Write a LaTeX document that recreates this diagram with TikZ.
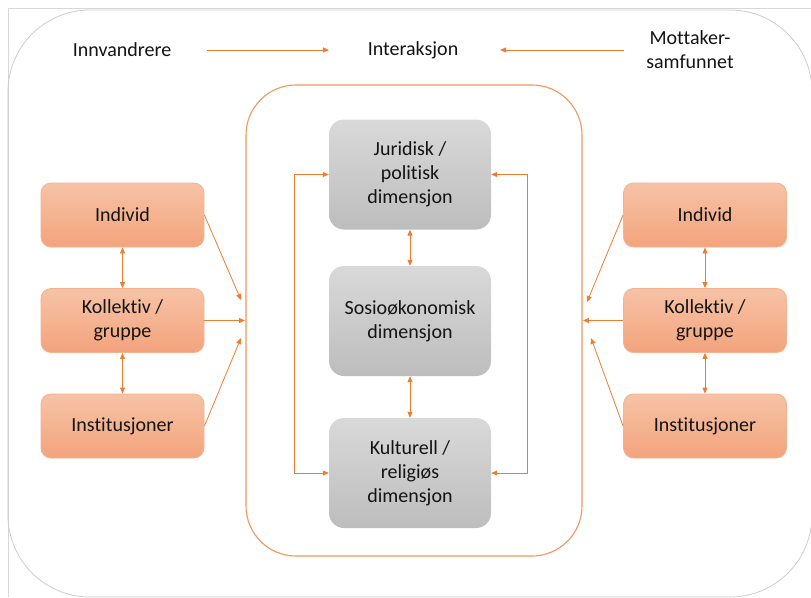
\documentclass[tikz,border=0pt]{standalone}
\usepackage{fontspec}
\setmainfont{Carlito}[Ligatures={NoCommon}]
\usetikzlibrary{arrows.meta}
\definecolor{arr}{HTML}{ED7D31}
\definecolor{otop}{HTML}{F6C3A6}
\definecolor{obot}{HTML}{F3A37C}
\definecolor{oline}{HTML}{F5B48F}
\definecolor{gtop}{HTML}{D9D9D9}
\definecolor{gbot}{HTML}{BDBDBD}
\definecolor{txt}{HTML}{141414}
\tikzset{
  obox/.style={rectangle, rounded corners=10pt, draw=oline, line width=0.8pt,
    top color=otop, bottom color=obot, minimum width=163pt, minimum height=64pt,
    align=center, text=txt, font=\fontsize{20pt}{24pt}\selectfont, inner sep=0pt},
  gbox/.style={rectangle, rounded corners=15pt, draw=none,
    top color=gtop, bottom color=gbot, minimum width=162pt, minimum height=110pt,
    align=center, text=txt, font=\fontsize{20pt}{24pt}\selectfont, inner sep=0pt},
  lbl/.style={align=center, text=txt, font=\fontsize{20pt}{24pt}\selectfont, inner sep=0pt},
  conn/.style={draw=arr, line width=0.8pt, -{Triangle[length=6pt,width=5pt]}},
  conn2/.style={draw=arr, line width=0.8pt, {Triangle[length=6pt,width=5pt]}-{Triangle[length=6pt,width=5pt]}}
}
\begin{document}
\begin{tikzpicture}[x=1pt,y=-1pt]
\useasboundingbox (0,0) rectangle (811,597);
\fill[white] (0,0) rectangle (811,597);
% frame lines
\draw[draw={rgb,255:red,215;green,215;blue,215}, line width=0.8pt] (8,8) -- (811,8);
\draw[draw={rgb,255:red,215;green,215;blue,215}, line width=0.8pt] (8,8) -- (8,597);
% outer rounded box
\draw[draw={rgb,255:red,205;green,205;blue,205}, line width=0.8pt, rounded corners=82pt] (8,10) rectangle (812,597);
% inner orange box
\draw[draw=arr!80, line width=1.1pt, rounded corners=50pt] (246,85) rectangle (582,556);

% top labels
\node[lbl] (innv) at (122,50) {Innvandrere};
\node[lbl] (inter) at (413,50) {Interaksjon};
\node[lbl] (mott) at (690,50) {Mottaker-\\samfunnet};
\coordinate (a1) at (207,50);
\coordinate (a2) at (329,50);
\coordinate (b1) at (624,50);
\coordinate (b2) at (500,50);
\draw[conn] (a1) -- (a2);
\draw[conn] (b1) -- (b2);

% left boxes
\node[obox] (li) at (122.5,215) {Individ};
\node[obox] (lk) at (122.5,320.5) {Kollektiv /\\gruppe};
\node[obox] (ls) at (122.5,426) {Institusjoner};
% right boxes
\node[obox] (ri) at (705,215) {Individ};
\node[obox] (rk) at (705,320.5) {Kollektiv /\\gruppe};
\node[obox] (rs) at (705,426) {Institusjoner};

% gray boxes
\node[gbox] (jur) at (410,174.5) {Juridisk /\\politisk\\dimensjon};
\node[gbox] (sos) at (410,321) {Sosioøkonomisk\\dimensjon};
\node[gbox] (kul) at (410,473) {Kulturell /\\religiøs\\dimensjon};

% vertical arrows in side columns
\draw[conn2] (li.south) -- (lk.north);
\draw[conn2] (lk.south) -- (ls.north);
\draw[conn2] (ri.south) -- (rk.north);
\draw[conn2] (rk.south) -- (rs.north);

% arrows into inner box
\coordinate (l1) at (241,300);
\coordinate (l2) at (245,320.5);
\coordinate (l3) at (241,338);
\coordinate (r1) at (587,302);
\coordinate (r2) at (583,320.5);
\coordinate (r3) at (591,338);
\draw[conn] (li.east) -- (l1);
\draw[conn] (lk.east) -- (l2);
\draw[conn] (ls.east) -- (l3);
\draw[conn] (ri.west) -- (r1);
\draw[conn] (rk.west) -- (r2);
\draw[conn] (rs.west) -- (r3);

% gray box connectors
\draw[conn2] (jur.south) -- (sos.north);
\draw[conn2] (sos.south) -- (kul.north);
\draw[conn2] (jur.west) -- ++(-34,0) |- (kul.west);
\draw[conn2] (jur.east) -- ++(36,0) |- (kul.east);
\end{tikzpicture}
\end{document}
